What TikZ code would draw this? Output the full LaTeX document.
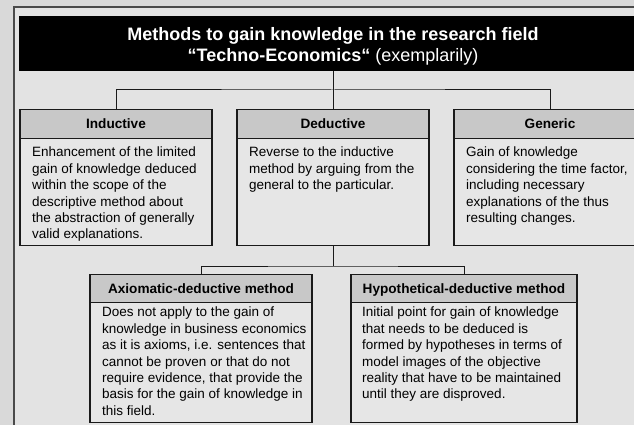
\documentclass[tikz,border=0pt]{standalone}
\usepackage{fontspec}
\setmainfont{Liberation Sans}
\definecolor{outerbg}{HTML}{D9D9D9}
\definecolor{innerbg}{HTML}{E3E3E3}
\definecolor{framecol}{HTML}{4A4A4A}
\definecolor{hdrgray}{HTML}{C8C8C8}
\definecolor{bodygray}{HTML}{E6E6E6}
\definecolor{linecol}{HTML}{1A1A1A}
\begin{document}
\begin{tikzpicture}[x=1pt,y=-1pt,
  hdr/.style={draw=linecol, line width=1.3pt, fill=hdrgray, minimum height=29pt, inner sep=0pt,
    text height=10pt, text depth=1pt, font=\fontsize{13.6}{16}\selectfont\bfseries, anchor=north},
  bodybox/.style={draw=linecol, line width=1.3pt, fill=bodygray, inner sep=0pt, anchor=north},
  txt/.style={anchor=north west, inner sep=0pt, align=left, font=\fontsize{13.5}{16.4}\selectfont},
  conn/.style={draw=linecol, line width=1pt}
]
\useasboundingbox (0,0) rectangle (634,425);
\clip (0,0) rectangle (634,425);
\fill[outerbg] (0,0) rectangle (634,425);
\draw[framecol, line width=2pt, fill=innerbg] (14,7) rectangle (660,450);

% title
\node[fill=black, minimum width=628pt, minimum height=55pt, inner sep=0pt, anchor=north] (title) at (333,16) {};
\node[text=white, align=center, inner sep=0pt, font=\fontsize{18}{21.3}\selectfont\bfseries] (titletext) at (333,46)
  {Methods to gain knowledge in the research field\\“Techno-Economics“ {\mdseries (exemplarily)}};

% first level
\node[bodybox, minimum width=192pt, minimum height=107pt] (indb) at (116,138) {};
\node[hdr, minimum width=192pt] (ind) at (116,109) {Inductive};
\node[txt] (indt) at (32,147) {Enhancement of the limited\\gain of knowledge deduced\\within the scope of the\\descriptive method about\\the abstraction of generally\\valid explanations.};

\node[bodybox, minimum width=192pt, minimum height=107pt] (dedb) at (333,138) {};
\node[hdr, minimum width=192pt] (ded) at (333,109) {Deductive};
\node[txt] (dedt) at (249,147) {Reverse to the inductive\\method by arguing from the\\general to the particular.};

\node[bodybox, minimum width=192pt, minimum height=107pt] (genb) at (550,138) {};
\node[hdr, minimum width=192pt] (gen) at (550,109) {Generic};
\node[txt] (gent) at (466,147) {Gain of knowledge\\considering the time factor,\\including necessary\\explanations of the thus\\resulting changes.};

% second level
\node[bodybox, minimum width=222pt, minimum height=120pt] (axb) at (201,302) {};
\node[hdr, minimum width=222pt, minimum height=28pt] (ax) at (201,274) {Axiomatic-deductive method};
\node[txt] (axt) at (102,307) {Does not apply to the gain of\\knowledge in business economics\\as it is axioms, i.e. sentences that\\cannot be proven or that do not\\require evidence, that provide the\\basis for the gain of knowledge in\\this field.};

\node[bodybox, minimum width=226pt, minimum height=120pt] (hyb) at (464,302) {};
\node[hdr, minimum width=226pt, minimum height=28pt] (hy) at (464,274) {Hypothetical-deductive method};
\node[txt] (hyt) at (362,307) {Initial point for gain of knowledge\\that needs to be deduced is\\formed by hypotheses in terms of\\model images of the objective\\reality that have to be maintained\\until they are disproved.};

% connectors
\coordinate (busA) at (333,90);
\coordinate (busB) at (333,266);
\draw[conn] (title.south) -- (ded.north);
\draw[conn] (ind.north) |- (busA) -| (gen.north);
\draw[conn] (dedb.south) -- (busB);
\draw[conn] (ax.north) |- (busB) -| (hy.north);
\end{tikzpicture}
\end{document}
